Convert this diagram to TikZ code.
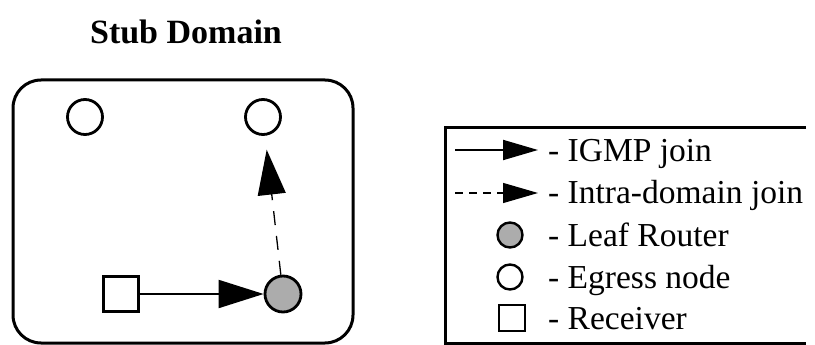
\documentclass[tikz,border=0pt]{standalone}
\usepackage{fontspec}
\setmainfont{Liberation Serif}
\usetikzlibrary{arrows.meta}
\begin{document}
\begin{tikzpicture}[x=1pt,y=-1pt,
  egress/.style={circle,draw,line width=2.8pt,minimum size=35pt,inner sep=0pt},
  leafrt/.style={circle,draw,line width=2.8pt,fill=gray!65,minimum size=36pt,inner sep=0pt},
  recv/.style={rectangle,draw,line width=2.8pt,minimum size=35pt,inner sep=0pt},
  igmp/.style={line width=2pt,-{Triangle[length=45pt,width=28pt]}},
  intra/.style={line width=1.3pt,dash pattern=on 14pt off 11pt,-{Triangle[length=45pt,width=28pt]}},
  lgsolid/.style={line width=2pt,-{Triangle[length=35pt,width=20pt]}},
  lgdash/.style={line width=1.3pt,dash pattern=on 8pt off 6pt,-{Triangle[length=35pt,width=20pt]}},
  lbl/.style={anchor=base west,font=\fontsize{33.5}{40}\selectfont,inner sep=0pt}]
\useasboundingbox (0,0) rectangle (815,345);
\node[anchor=base,inner sep=0pt,font=\bfseries\fontsize{34}{40}\selectfont] (title) at (186,44) {Stub Domain};
% stub domain
\draw[line width=3pt,rounded corners=28pt] (13,80) rectangle (353,343);
\node[egress] (eg1) at (85,117) {};
\node[egress] (eg2) at (263,117) {};
\node[leafrt] (leaf) at (283,294) {};
\node[recv] (rc) at (121,294) {};
\draw[igmp] (rc) -- (leaf);
\draw[intra,shorten >=14pt] (leaf) -- (eg2);
% legend
\draw[line width=3pt] (806,128) -- (445,128) -- (445,343) -- (806,343);
\coordinate (s1) at (455,150);
\coordinate (e1) at (538,150);
\coordinate (s2) at (455,193);
\coordinate (e2) at (538,193);
\draw[lgsolid] (s1) -- (e1);
\draw[lgdash] (s2) -- (e2);
\node[leafrt,minimum size=25pt,line width=2.4pt] (lgleaf) at (510,235) {};
\node[egress,minimum size=25pt,line width=2.4pt] (lgegress) at (510,277) {};
\node[recv,minimum size=26pt,line width=2.4pt] (lgrecv) at (512,318) {};
\node[lbl] (t1) at (548,161) {- IGMP join};
\node[lbl] (t2) at (548,204) {- Intra-domain join};
\node[lbl] (t3) at (548,246) {- Leaf Router};
\node[lbl] (t4) at (548,288) {- Egress node};
\node[lbl] (t5) at (548,329) {- Receiver};
\end{tikzpicture}
\end{document}
